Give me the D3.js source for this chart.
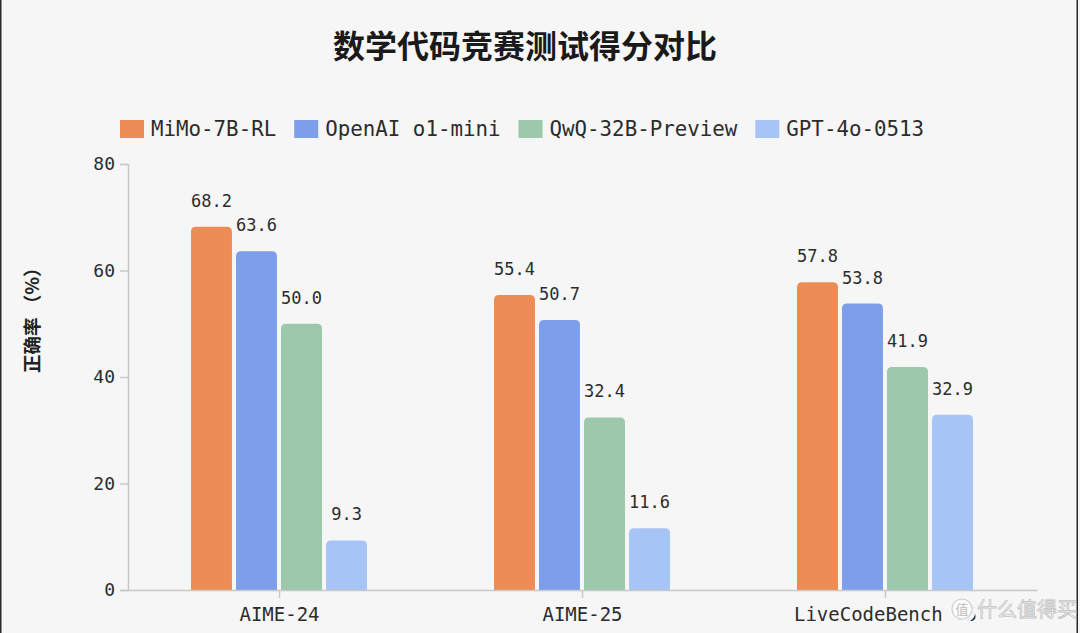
<!DOCTYPE html>
<html>
<head>
<meta charset="utf-8">
<script src="https://cdn.jsdelivr.net/npm/d3@7/dist/d3.min.js"></script>
<style>
  html, body { margin: 0; padding: 0; background: #f6f6f6; }
  svg { display: block; }
</style>
</head>
<body>
<svg id="chart" width="1080" height="633"></svg>
<script>
const title = "数学代码竞赛测试得分对比";
const yAxisTitle = "正确率 （%）";
const categories = ["AIME-24", "AIME-25", "LiveCodeBench v5"];
const seriesNames = ["MiMo-7B-RL", "OpenAI o1-mini", "QwQ-32B-Preview", "GPT-4o-0513"];
const seriesColors = ["#EE8C56", "#7D9FEB", "#9CC8AB", "#A7C4F6"];
const mimo = [68.2, 55.4, 57.8];
const o1mini = [63.6, 50.7, 53.8];
const qwq = [50.0, 32.4, 41.9];
const gpt4o = [9.3, 11.6, 32.9];
const yTicks = [0, 20, 40, 60, 80];

const seriesValues = [mimo, o1mini, qwq, gpt4o];
const mono = "'DejaVu Sans Mono', 'Liberation Mono', monospace";
const cjk = "'Noto Sans CJK SC', 'Noto Sans', sans-serif";
const textColor = "#2c2c2c";

const svg = d3.select("#chart");

// frame borders
svg.append("rect").attr("x", 0).attr("y", 0).attr("width", 1.5).attr("height", 633).attr("fill", "#2a2a2a");
svg.append("rect").attr("x", 1076.5).attr("y", 0).attr("width", 1.5).attr("height", 633).attr("fill", "#2a2a2a");

const plotLeft = 128, plotRight = 1037, plotTop = 164, plotBottom = 590;

const x0 = d3.scaleBand().domain(categories).range([plotLeft, plotRight]).padding(0);
const x1 = d3.scaleBand().domain(seriesNames).range([63, 63 + 176]).paddingInner(0.09).paddingOuter(0);
const y = d3.scaleLinear().domain([0, 80]).range([plotBottom, plotTop]);

// title
svg.append("text")
  .attr("x", 525).attr("y", 58)
  .attr("text-anchor", "middle")
  .attr("font-family", cjk).attr("font-weight", 700).attr("font-size", 32)
  .attr("fill", "#1a1a1a")
  .text(title);

// legend
const legend = svg.append("g").attr("transform", "translate(120,0)");
let lx = 0;
seriesNames.forEach((name, i) => {
  const g = legend.append("g").attr("transform", `translate(${lx},0)`);
  g.append("rect").attr("x", 0).attr("y", 120).attr("width", 24).attr("height", 18).attr("fill", seriesColors[i]);
  const t = g.append("text")
    .attr("x", 31).attr("y", 136)
    .attr("font-family", mono).attr("font-size", 20.8)
    .attr("fill", textColor)
    .text(name);
  const w = t.node().getComputedTextLength();
  lx += 31 + w + 18;
});

// y axis
const yAxis = d3.axisLeft(y).tickValues(yTicks).tickSize(8).tickPadding(5);
const gy = svg.append("g").attr("transform", `translate(${plotLeft},0)`).call(yAxis);
gy.select(".domain").attr("stroke", "#c8c8c8").attr("stroke-width", 1.5);
gy.selectAll(".tick line").attr("stroke", "#c8c8c8").attr("stroke-width", 1.5);
gy.selectAll(".tick text").attr("font-family", mono).attr("font-size", 18).attr("fill", textColor);

// y axis title
svg.append("text")
  .attr("transform", "translate(39,373) rotate(-90)")
  .attr("text-anchor", "start")
  .attr("font-family", cjk).attr("font-weight", 700).attr("font-size", 18.5)
  .attr("fill", "#222")
  .text(yAxisTitle);

// bars
const barPath = (x, yTop, w, h, r) => {
  r = Math.min(r, h, w / 2);
  return `M${x},${yTop + h}V${yTop + r}Q${x},${yTop} ${x + r},${yTop}H${x + w - r}Q${x + w},${yTop} ${x + w},${yTop + r}V${yTop + h}Z`;
};

const groups = svg.append("g").selectAll("g")
  .data(categories)
  .join("g")
  .attr("transform", d => `translate(${x0(d)},0)`);

groups.selectAll("path")
  .data((d, ci) => seriesNames.map((s, si) => ({ s, si, v: seriesValues[si][ci] })))
  .join("path")
  .attr("d", d => barPath(x1(d.s), y(d.v), x1.bandwidth(), y(0) - y(d.v), 5))
  .attr("fill", d => seriesColors[d.si]);

groups.selectAll("text.val")
  .data((d, ci) => seriesNames.map((s, si) => ({ s, si, v: seriesValues[si][ci] })))
  .join("text")
  .attr("class", "val")
  .attr("x", d => x1(d.s) + x1.bandwidth() / 2)
  .attr("y", d => y(d.v) - 20)
  .attr("text-anchor", "middle")
  .attr("font-family", mono).attr("font-size", 17)
  .attr("fill", textColor)
  .text(d => d.v.toFixed(1));

// x axis
const xAxis = d3.axisBottom(x0).tickSize(8).tickPadding(10).tickSizeOuter(0);
const gx = svg.append("g").attr("transform", `translate(0,${plotBottom})`).call(xAxis);
gx.select(".domain").attr("stroke", "#c8c8c8").attr("stroke-width", 1.5);
gx.selectAll(".tick line").attr("stroke", "#c8c8c8").attr("stroke-width", 1.5);
gx.selectAll(".tick text").attr("font-family", mono).attr("font-size", 19).attr("fill", textColor);

// watermark (covers the end of the last axis label, as in the source image)
const wm = svg.append("g");
wm.append("rect").attr("x", 950).attr("y", 597).attr("width", 26).attr("height", 26).attr("rx", 13)
  .attr("fill", "#f7f7f7").attr("opacity", 0.93);
wm.append("circle").attr("cx", 962).attr("cy", 609).attr("r", 10).attr("fill", "#fbfbfb").attr("stroke", "#cfcfcf").attr("stroke-width", 1.2);
wm.append("text").attr("x", 962).attr("y", 614).attr("text-anchor", "middle")
  .attr("font-family", cjk).attr("font-size", 13).attr("fill", "#bdbdbd").text("值");
wm.append("text").attr("x", 977).attr("y", 617)
  .attr("font-family", cjk).attr("font-size", 20).attr("fill", "#fbfbfb")
  .attr("stroke", "#c4c4c4").attr("stroke-width", 0.8)
  .text("什么值得买");
</script>
</body>
</html>
